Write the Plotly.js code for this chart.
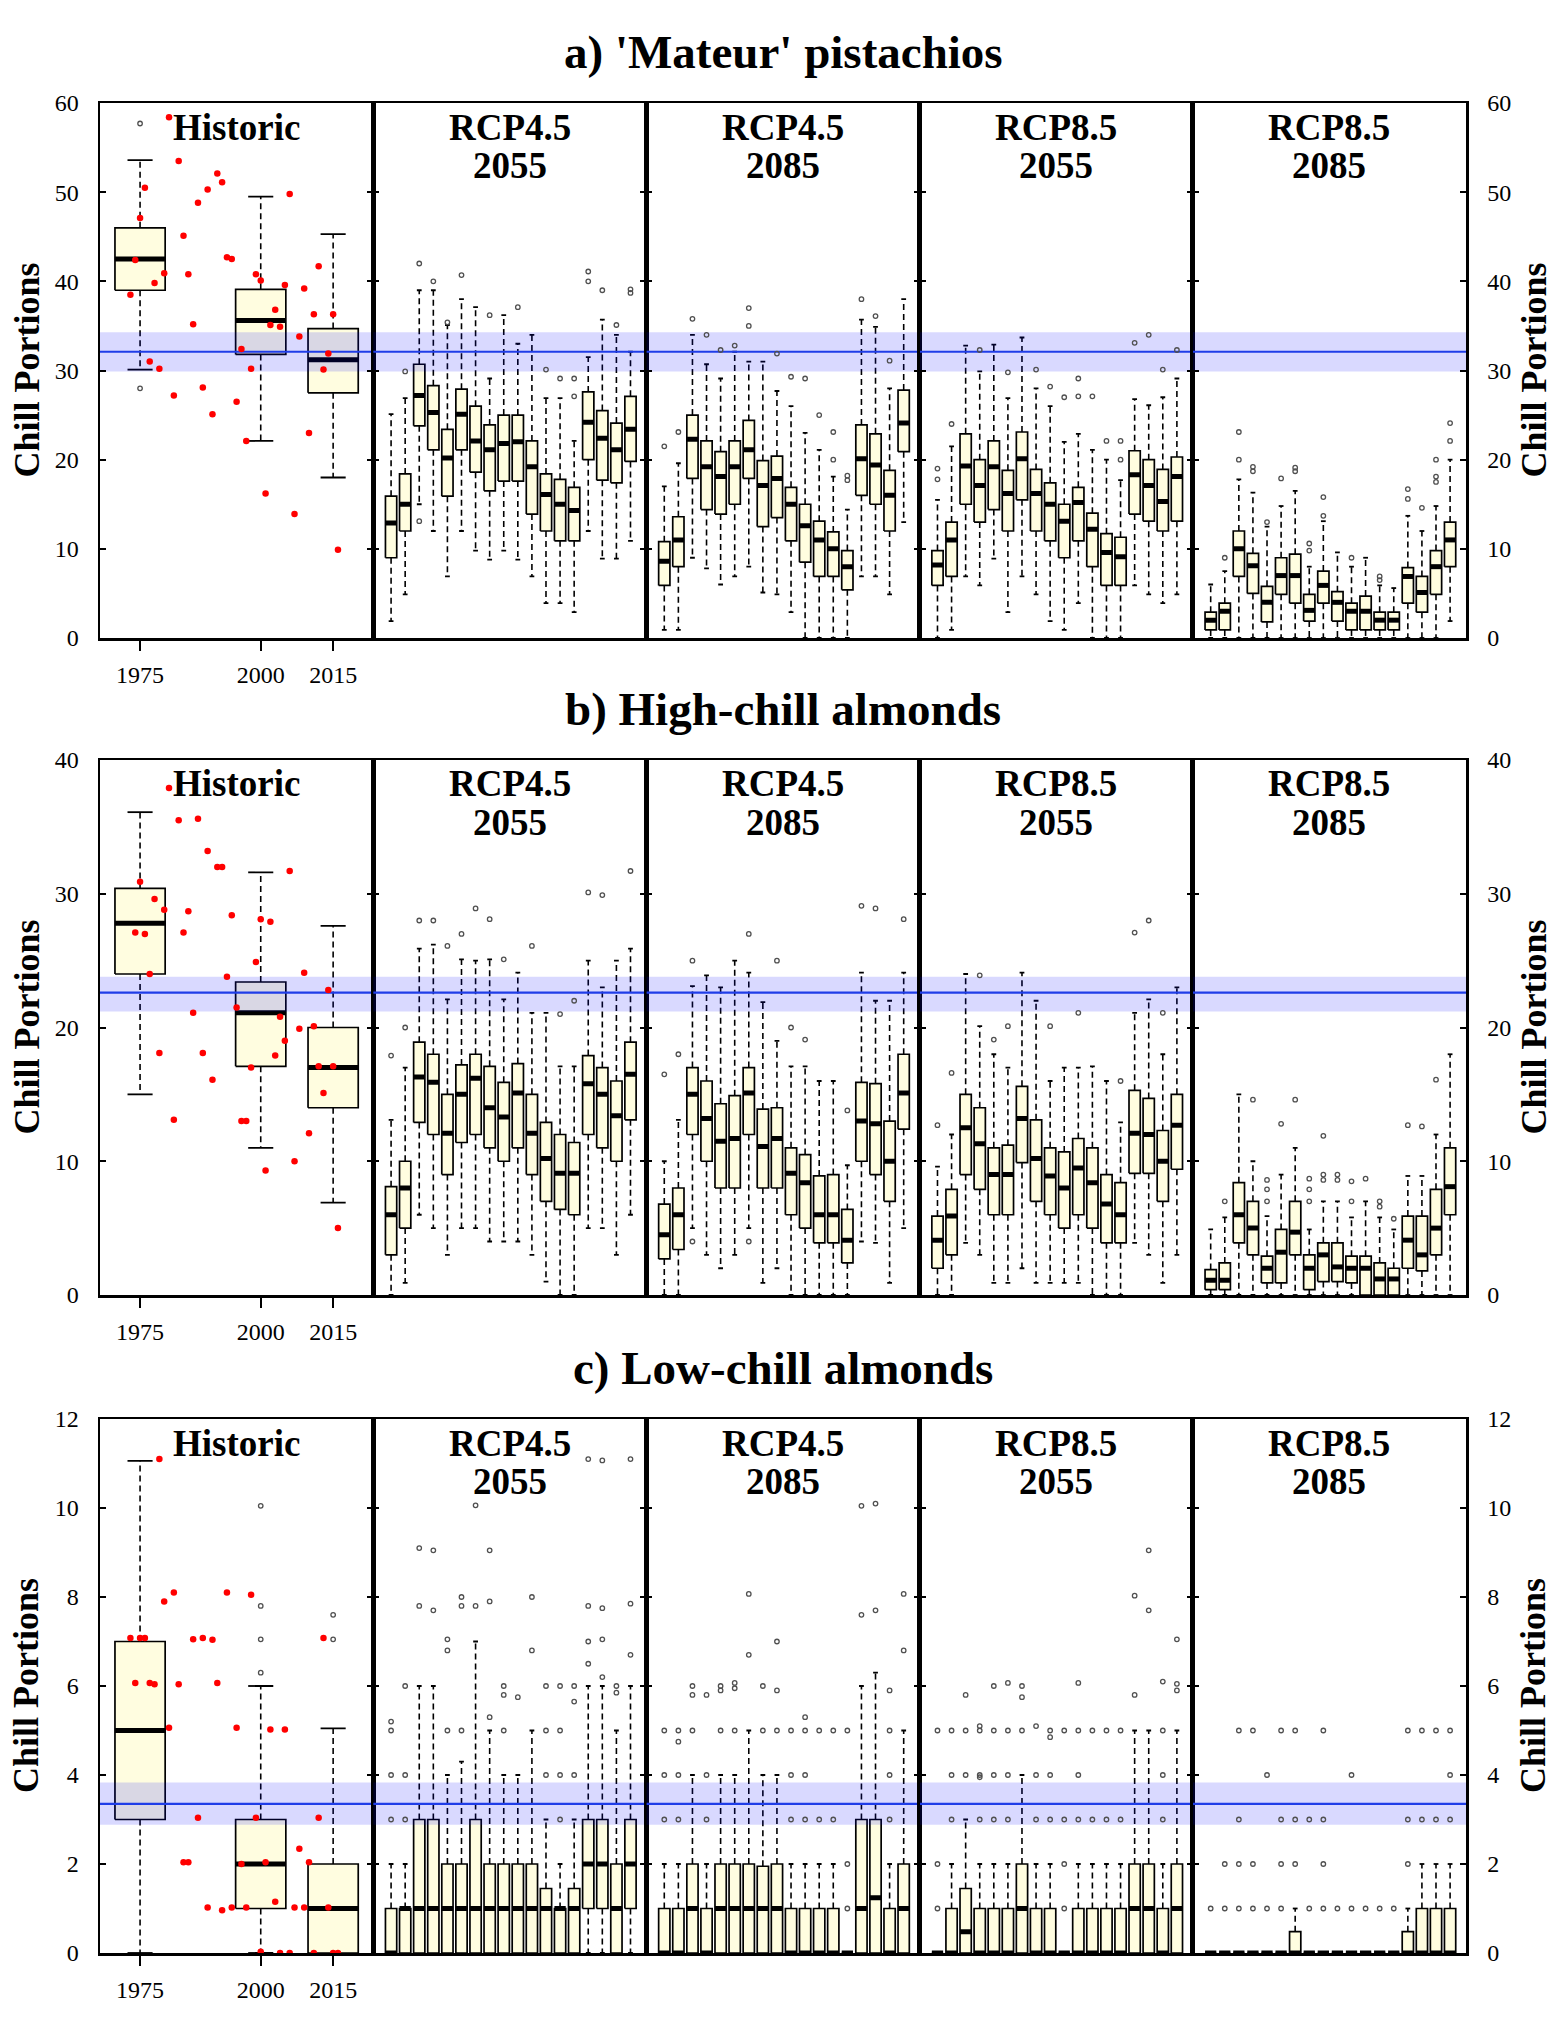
<!DOCTYPE html>
<html>
<head>
<meta charset="utf-8">
<script src="https://cdn.plot.ly/plotly-3.0.1.min.js"></script>
<style>html,body{margin:0;padding:0;background:#fff;}</style>
</head>
<body>
<div id="chart" style="width:1568px;height:2037px;"></div>
<script>
// ---------- Chill portions: historic record and projected climate scenarios ----------

const rowTitles = ["a) 'Mateur' pistachios", "b) High-chill almonds", "c) Low-chill almonds"];
const headLine1 = ["Historic", "RCP4.5", "RCP4.5", "RCP8.5", "RCP8.5"];
const headLine2 = ["", "2055", "2085", "2055", "2085"];
const yAxisTitle = "Chill Portions";

const yTicksA = [0, 10, 20, 30, 40, 50, 60];
const yTicksB = [0, 10, 20, 30, 40];
const yTicksC = [0, 2, 4, 6, 8, 10, 12];

const histTickVals = [1975, 2000, 2015];
const histTickText = ["1975", "2000", "2015"];
const gcmPos = [1, 2, 3, 4, 5, 6, 7, 8, 9, 10, 11, 12, 13, 14, 15, 16, 17, 18];

// chill requirement: [lower bound, estimate, upper bound]
const thrA = [29.9, 32.1, 34.3];
const thrB = [21.2, 22.6, 23.8];
const thrC = [2.88, 3.35, 3.83];

// box statistics per box: [lower whisker, Q1, median, Q3, upper whisker]
const histA = [[30.1, 39.0, 42.5, 46.0, 53.6], [22.1, 31.8, 35.6, 39.1, 49.5], [18.0, 27.5, 31.2, 34.7, 45.3]];
const histAOut = [[57.7, 28.0], [], []];
const histB = [[15.0, 24.0, 27.8, 30.4, 36.1], [11.0, 17.1, 21.1, 23.4, 31.6], [6.9, 14.0, 17.0, 20.0, 27.6]];
const histBOut = [[], [], []];
const histC = [[0, 3.0, 5.0, 7.0, 11.06], [0, 1.0, 2.0, 3.0, 6.0], [0, 0, 1.0, 2.0, 5.05]];
const histCOut = [[], [10.05, 7.8, 7.05, 6.3], [7.6, 7.05]];

// observed annual chill
const obsYearsA = [1973, 1974, 1975, 1976, 1977, 1978, 1979, 1980, 1981, 1982, 1983, 1984, 1985, 1986, 1987, 1988, 1989, 1990, 1991, 1992, 1993, 1994, 1995, 1996, 1997, 1998, 1999, 2000, 2001, 2002, 2003, 2004, 2005, 2006, 2007, 2008, 2009, 2010, 2011, 2012, 2013, 2014, 2015, 2016];
const obsA = [38.5, 42.4, 47.1, 50.5, 31.0, 39.8, 30.2, 40.9, 58.4, 27.2, 53.5, 45.1, 40.8, 35.2, 48.8, 28.1, 50.3, 25.1, 52.1, 51.1, 42.7, 42.5, 26.5, 32.4, 22.1, 30.2, 40.8, 40.1, 16.2, 35.1, 36.8, 34.9, 39.6, 49.8, 13.9, 33.8, 39.2, 23.0, 36.3, 41.7, 30.1, 31.9, 36.3, 9.9];
const obsYearsB = [1974, 1975, 1976, 1977, 1978, 1979, 1980, 1981, 1982, 1983, 1984, 1985, 1986, 1987, 1988, 1989, 1990, 1991, 1992, 1993, 1994, 1995, 1996, 1997, 1998, 1999, 2000, 2001, 2002, 2003, 2004, 2005, 2006, 2007, 2008, 2009, 2010, 2011, 2012, 2013, 2014, 2015, 2016];
const obsB = [27.1, 30.9, 27.0, 24.0, 29.6, 18.1, 28.8, 37.9, 13.1, 35.5, 27.1, 28.7, 21.1, 35.6, 18.1, 33.2, 16.1, 32.0, 32.0, 23.8, 28.4, 21.5, 13.0, 13.0, 17.0, 24.9, 28.1, 9.3, 27.9, 17.9, 20.8, 19.0, 31.7, 10.0, 19.9, 24.1, 12.1, 20.1, 17.1, 15.1, 22.8, 17.1, 5.0];
const obsYearsC = [1973, 1974, 1975, 1976, 1977, 1978, 1979, 1980, 1981, 1982, 1983, 1984, 1985, 1986, 1987, 1988, 1989, 1990, 1991, 1992, 1993, 1994, 1995, 1996, 1997, 1998, 1999, 2000, 2001, 2002, 2003, 2004, 2005, 2006, 2007, 2008, 2009, 2010, 2011, 2012, 2013, 2014, 2015, 2016];
const obsC = [7.08, 6.07, 7.08, 7.08, 6.07, 6.04, 11.1, 7.9, 5.06, 8.1, 6.04, 2.04, 2.04, 7.05, 3.04, 7.08, 1.02, 7.04, 6.07, 0.96, 8.1, 1.02, 5.06, 2.0, 1.02, 8.05, 3.04, 0.03, 2.04, 5.02, 1.15, 0, 5.02, 0, 1.02, 2.34, 1.02, 2.04, 0, 3.04, 7.08, 1.02, 0, 0];

// projections, one box per climate model
const a45_2055 = [[1.9, 9.0, 12.9, 15.9, 25.1], [4.9, 12.0, 15.0, 18.4, 26.9], [15.0, 23.8, 27.2, 30.7, 39.0], [12.0, 21.1, 25.3, 28.3, 39.0], [6.9, 15.9, 20.2, 23.4, 35.1], [12.0, 21.1, 25.1, 27.9, 38.0], [9.8, 18.6, 22.1, 26.0, 37.1], [8.8, 16.5, 21.1, 23.9, 29.1], [9.8, 17.6, 21.8, 25.0, 36.2], [8.8, 17.6, 22.0, 25.0, 33.0], [6.9, 13.9, 19.2, 22.1, 34.0], [3.9, 12.0, 16.1, 18.4, 26.9], [3.9, 10.9, 15.0, 17.8, 26.9], [2.9, 10.9, 14.3, 16.9, 22.1], [12.0, 20.0, 24.2, 27.6, 31.5], [8.9, 17.7, 22.4, 25.5, 35.7], [8.9, 17.4, 21.1, 24.1, 34.0], [10.9, 19.8, 23.4, 27.1, 32.1]];
const a45_2055Out = [[], [29.9], [42.0, 13.1], [40.0], [35.4], [40.7], [], [36.2], [], [37.1], [], [30.1], [29.1], [29.1, 27.1], [41.1, 40.0], [39.0], [35.1], [39.1, 38.7]];
const a45_2085 = [[0.9, 5.9, 8.6, 10.8, 17.0], [0.9, 8.0, 11.0, 13.6, 19.6], [9.0, 17.9, 22.3, 25.0, 34.0], [7.8, 14.4, 19.2, 22.1, 30.7], [6.0, 13.9, 18.1, 20.9, 29.1], [6.9, 15.0, 19.2, 22.1, 32.1], [8.0, 17.9, 21.1, 24.4, 31.0], [5.1, 12.5, 17.1, 19.9, 31.0], [4.9, 13.5, 17.9, 20.4, 27.7], [2.9, 10.9, 15.0, 16.9, 26.0], [0, 8.5, 12.6, 15.0, 23.0], [0, 6.9, 11.0, 13.1, 21.1], [0, 6.9, 10.0, 11.9, 18.1], [0, 5.4, 8.0, 9.8, 14.4], [6.9, 16.0, 20.1, 23.9, 35.7], [6.9, 15.0, 19.4, 22.9, 34.9], [4.9, 12.0, 16.0, 18.8, 28.0], [13.0, 20.9, 24.1, 27.8, 38.0]];
const a45_2085Out = [[21.5], [23.1], [35.8], [34.0], [32.3], [32.8], [37.0, 35.0], [], [31.9], [29.3], [29.1], [25.0], [23.1, 20.0], [18.2, 17.7], [38.0], [36.1], [31.1], []];
const a85_2055 = [[0, 5.9, 8.2, 9.8, 15.5], [0.9, 6.9, 11.0, 13.0, 21.5], [6.9, 15.0, 19.3, 22.9, 32.8], [5.9, 13.0, 17.1, 20.0, 29.9], [8.9, 14.4, 19.2, 22.1, 32.9], [2.9, 12.0, 16.2, 18.8, 26.9], [6.9, 15.5, 20.1, 23.1, 33.7], [4.9, 12.0, 16.2, 18.9, 28.0], [1.9, 10.9, 15.0, 17.4, 26.0], [0.9, 9.0, 13.1, 15.0, 22.0], [3.9, 10.9, 15.2, 16.9, 22.9], [0, 8.0, 12.2, 14.0, 21.1], [0, 5.9, 9.6, 11.7, 20.0], [0, 5.9, 9.1, 11.3, 17.7], [5.9, 13.9, 18.3, 21.0, 26.8], [4.9, 13.1, 17.1, 20.0, 26.1], [3.9, 12.0, 15.3, 18.9, 27.0], [4.9, 13.1, 18.1, 20.3, 29.1]];
const a85_2055Out = [[19.0, 17.8], [24.0], [], [32.3], [], [29.8], [], [30.1], [28.2], [27.0], [29.1, 27.1], [27.1], [22.1], [22.1, 20.0], [33.1], [34.0], [30.1], [32.3]];
const a85_2085 = [[0, 0.9, 2.0, 2.9, 6.0], [0, 0.9, 3.0, 3.9, 7.5], [0, 6.9, 10.0, 12.0, 17.8], [0, 5.0, 8.1, 9.5, 16.3], [0, 1.8, 4.0, 5.8, 12.5], [0, 4.9, 7.0, 9.0, 14.8], [0, 3.9, 7.0, 9.4, 16.5], [0, 1.9, 3.1, 4.9, 8.0], [0, 3.9, 5.9, 7.5, 13.1], [0, 1.9, 4.0, 5.2, 9.6], [0, 0.9, 3.0, 3.9, 8.0], [0, 0.9, 3.0, 4.7, 9.0], [0, 0.9, 2.0, 2.9, 5.9], [0, 0.9, 2.0, 2.9, 5.6], [0, 3.9, 6.9, 7.9, 13.7], [0, 2.9, 5.1, 6.9, 12.0], [0, 4.9, 8.0, 9.8, 14.8], [1.9, 8.0, 11.0, 13.0, 20.0]];
const a85_2085Out = [[], [9.0], [23.1, 20.0], [19.2, 18.7], [13.0], [17.9], [19.1, 18.7], [10.6, 9.8], [15.8, 13.7], [], [9.0], [], [6.9, 6.5], [], [16.7, 15.6], [14.6], [20.0, 18.1, 17.5], [24.1, 22.1]];

const b45_2055 = [[0, 3.0, 6.0, 8.1, 13.1], [0.9, 5.0, 8.0, 10.0, 17.0], [6.0, 12.9, 16.3, 18.9, 25.9], [5.0, 12.0, 15.9, 18.0, 26.2], [3.0, 9.0, 12.1, 15.0, 22.1], [5.0, 11.4, 15.0, 17.2, 25.1], [5.0, 12.0, 16.2, 18.0, 25.0], [4.0, 11.0, 14.0, 17.1, 25.1], [4.0, 10.0, 13.3, 15.9, 22.1], [4.0, 11.0, 15.1, 17.3, 24.1], [3.0, 9.0, 12.1, 15.0, 21.1], [1.0, 7.0, 10.2, 12.9, 21.1], [0, 6.4, 9.1, 12.0, 17.1], [0, 6.0, 9.1, 11.4, 17.1], [5.0, 12.0, 15.8, 17.9, 25.0], [5.0, 11.0, 15.0, 17.0, 23.0], [3.0, 10.0, 13.4, 16.0, 25.0], [6.0, 13.1, 16.5, 18.9, 25.9]];
const b45_2055Out = [[17.9], [20.0], [28.0], [28.0], [26.1], [27.0], [28.9], [28.1], [25.1], [], [26.1], [], [21.0], [22.0], [30.1], [29.9], [], [31.7]];
const b45_2085 = [[0, 2.7, 4.5, 6.8, 10.0], [0, 3.4, 6.0, 8.0, 13.1], [5.0, 12.0, 15.0, 17.0, 23.1], [3.0, 10.0, 13.2, 16.0, 23.9], [2.0, 8.0, 11.5, 14.3, 23.0], [3.0, 8.0, 11.7, 14.9, 25.0], [5.0, 12.0, 15.1, 17.0, 24.1], [0.9, 8.0, 11.1, 13.9, 21.9], [2.0, 8.0, 11.7, 14.0, 19.0], [0, 6.0, 9.1, 11.0, 17.1], [0, 5.0, 8.4, 10.5, 17.1], [0, 3.9, 6.0, 8.9, 16.0], [0, 3.9, 6.0, 9.0, 16.0], [0, 2.4, 4.1, 6.4, 9.7], [4.0, 10.0, 13.0, 15.9, 24.1], [3.9, 9.0, 12.8, 15.8, 22.0], [0.9, 7.0, 10.0, 13.0, 22.0], [5.0, 12.4, 15.1, 18.0, 24.1]];
const b45_2085Out = [[16.5], [18.0], [25.0, 4.0], [], [], [], [27.0, 4.0], [], [25.0], [20.0], [19.1], [], [], [13.8], [29.1], [28.9], [], [28.1]];
const b85_2055 = [[0, 2.0, 4.1, 5.9, 9.6], [0, 3.0, 5.9, 7.9, 12.0], [3.9, 9.0, 12.5, 15.0, 24.0], [3.0, 7.9, 11.3, 14.0, 20.1], [0.9, 6.0, 9.0, 11.0, 18.0], [0.9, 6.0, 9.0, 11.2, 17.0], [2.0, 9.9, 13.2, 15.6, 24.1], [0.9, 7.0, 10.2, 13.1, 22.0], [0.9, 6.0, 8.9, 11.0, 16.0], [0.9, 5.0, 8.0, 10.7, 17.0], [0.9, 6.0, 9.5, 11.7, 17.0], [0, 5.0, 8.4, 11.0, 17.1], [0, 3.9, 6.8, 9.0, 16.0], [0, 3.9, 6.0, 8.4, 12.9], [3.9, 9.1, 12.1, 15.3, 21.1], [3.0, 9.1, 12.0, 14.7, 22.1], [0.9, 7.0, 10.0, 12.3, 18.0], [3.0, 9.4, 12.7, 15.0, 23.0]];
const b85_2055Out = [[12.7], [16.6], [], [23.9], [19.1], [20.1], [], [], [20.1], [], [21.1], [], [], [16.0], [27.1], [28.0], [21.1], []];
const b85_2085 = [[0, 0.4, 1.1, 1.9, 4.9], [0, 0.4, 1.1, 2.4, 5.8], [0, 3.9, 6.0, 8.4, 15.0], [0, 3.0, 5.0, 7.0, 10.0], [0, 0.9, 2.0, 2.9, 5.9], [0, 0.9, 3.2, 4.9, 9.0], [0, 3.0, 4.7, 7.0, 11.0], [0, 0.4, 2.0, 3.0, 4.9], [0, 1.0, 3.0, 3.9, 7.0], [0, 1.0, 2.1, 3.9, 7.0], [0, 0.9, 2.0, 2.9, 5.8], [0, 0, 2.0, 2.9, 7.0], [0, 0, 1.2, 2.4, 5.8], [0, 0, 1.2, 2.0, 4.9], [0, 2.0, 4.1, 5.9, 8.9], [0, 1.8, 3.0, 5.9, 8.9], [0, 3.0, 5.0, 7.9, 12.0], [0, 6.0, 8.1, 11.0, 18.0]];
const b85_2085Out = [[], [7.0], [], [14.6], [8.6, 7.9, 7.0], [12.8], [14.6], [8.7, 7.9, 7.0], [11.9, 9.0, 8.6], [9.0, 8.6], [8.5, 7.0], [8.7], [7.0, 6.6], [5.7], [12.7], [12.6], [16.1], []];

const c45_2055 = [[0, 0, 0, 1, 2], [0, 0, 1, 1, 2], [0, 0, 1, 3, 6], [0, 0, 1, 3, 6], [0, 0, 1, 2, 4], [0, 0, 1, 2, 4.3], [0, 0, 1, 3, 7], [0, 0, 1, 2, 5], [0, 0, 1, 2, 4], [0, 0, 1, 2, 4], [0, 0, 1, 2, 5], [0, 0, 1, 1.45, 3], [0, 0, 1, 1, 2], [0, 0, 1, 1.45, 3], [0, 1, 2, 3, 6], [0, 1, 2, 3, 6], [0, 0, 1, 2, 5], [0, 1, 2, 3, 6]];
const c45_2055Out = [[5.2, 5.0, 4.0, 3.0], [6.0, 4.0, 3.0], [9.1, 7.8], [9.05, 7.7], [7.05, 6.8, 5.0], [8.0, 7.8, 5.0], [10.06, 7.8], [9.05, 7.9, 5.3], [6.0, 5.8, 5.0], [5.75], [8.0, 6.8], [6.0, 5.0, 4.0], [6.0, 5.0, 4.0, 3.0], [6.0, 5.65, 4.0], [11.1, 7.8, 7.0, 6.5], [11.07, 7.75, 7.05, 6.2], [6.0, 5.85], [11.1, 7.85, 6.7]];
const c45_2085 = [[0, 0, 0, 1, 2], [0, 0, 0, 1, 2], [0, 0, 1, 2, 4], [0, 0, 0, 1, 2], [0, 0, 1, 2, 4], [0, 0, 1, 2, 4], [0, 0, 1, 2, 5], [0, 0, 1, 1.95, 4], [0, 0, 1, 2, 4], [0, 0, 0, 1, 2], [0, 0, 0, 1, 2], [0, 0, 0, 1, 2], [0, 0, 0, 1, 2], [0, 0, 0, 0, 0], [0, 0, 1, 3, 6], [0, 0, 1.24, 3, 6.3], [0, 0, 0, 1, 2], [0, 0, 1, 2, 5]];
const c45_2085Out = [[5.0, 4.0, 3.0], [5.0, 4.75, 4.0, 3.0], [6.0, 5.8, 5.0], [5.8, 4.0, 3.0], [6.0, 5.9, 5.0], [6.07, 5.95, 5.0], [8.07, 6.7], [6.0, 5.0], [7.0, 5.9, 5.0], [5.0, 4.0, 3.0], [5.3, 5.0, 4.0, 3.0], [5.0, 3.0], [5.0, 3.0], [5.0, 2.0, 1.0], [10.05, 7.6], [10.1, 7.7], [5.9, 5.0, 4.0, 3.0], [8.07, 6.8]];
const c85_2055 = [[0, 0, 0, 0, 0], [0, 0, 0, 1, 2], [0, 0, 0.48, 1.45, 3], [0, 0, 0, 1, 2], [0, 0, 0, 1, 2], [0, 0, 0, 1, 2], [0, 0, 1, 2, 4], [0, 0, 0, 1, 2], [0, 0, 0, 1, 2], [0, 0, 0, 0, 0], [0, 0, 0, 1, 2], [0, 0, 0, 1, 2], [0, 0, 0, 1, 2], [0, 0, 0, 1, 2], [0, 0, 1, 2, 5], [0, 0, 1, 2, 5], [0, 0, 0, 1, 2], [0, 0, 1, 2, 5]];
const c85_2055Out = [[5.0, 2.0, 1.0], [5.0, 4.0, 3.0], [5.8, 5.0, 4.0], [5.1, 5.0, 4.0, 3.95, 3.0], [6.0, 5.0, 4.0, 3.0], [6.07, 5.0, 4.0, 3.0], [6.0, 5.75, 5.0], [5.1, 4.0, 3.0], [5.0, 4.85, 4.0, 3.0], [5.0, 3.0, 2.0, 1.0], [6.07, 5.0, 4.0, 3.0], [5.0, 3.0], [5.0, 3.0], [5.0, 3.0], [8.03, 5.8], [9.05, 7.7], [6.1, 5.0, 4.0, 3.0], [7.05, 6.05, 5.9]];
const c85_2085 = [[0, 0, 0, 0, 0], [0, 0, 0, 0, 0], [0, 0, 0, 0, 0], [0, 0, 0, 0, 0], [0, 0, 0, 0, 0], [0, 0, 0, 0, 0], [0, 0, 0, 0.48, 1], [0, 0, 0, 0, 0], [0, 0, 0, 0, 0], [0, 0, 0, 0, 0], [0, 0, 0, 0, 0], [0, 0, 0, 0, 0], [0, 0, 0, 0, 0], [0, 0, 0, 0, 0], [0, 0, 0, 0.48, 1], [0, 0, 0, 1, 2], [0, 0, 0, 1, 2], [0, 0, 0, 1, 2]];
const c85_2085Out = [[1], [2, 1], [5, 3, 2, 1], [5, 2, 1], [4, 1], [5, 3, 2, 1], [5, 3, 2], [3, 1], [5, 3, 2, 1], [1], [4, 1], [1], [1], [1], [5, 3, 2], [5, 3], [5, 3], [5, 4, 3]];

// ---------- figure geometry and styling ----------
const W = 1568, H = 2037;
const colPx = [100, 373.2, 646.4, 919.6, 1192.8, 1466];
const rowPx = [[103, 638], [760, 1295], [1419, 1953]];
const histRange = [1966.7, 2023.3];
const gcmRange = [-0.27, 19.13];
const SERIF = '"Liberation Serif", "Times New Roman", Times, serif';
const BOX_FILL = '#FFFDE0';
const BAND_FILL = 'rgba(0,0,255,0.15)';
const LINE_BLUE = '#1f3de8';

const rows = [
  { hist: histA, histOut: histAOut, obsX: obsYearsA, obsY: obsA, fut: [a45_2055, a45_2085, a85_2055, a85_2085], futOut: [a45_2055Out, a45_2085Out, a85_2055Out, a85_2085Out], thr: thrA, ticks: yTicksA },
  { hist: histB, histOut: histBOut, obsX: obsYearsB, obsY: obsB, fut: [b45_2055, b45_2085, b85_2055, b85_2085], futOut: [b45_2055Out, b45_2085Out, b85_2055Out, b85_2085Out], thr: thrB, ticks: yTicksB },
  { hist: histC, histOut: histCOut, obsX: obsYearsC, obsY: obsC, fut: [c45_2055, c45_2085, c85_2055, c85_2085], futOut: [c45_2055Out, c45_2085Out, c85_2055Out, c85_2085Out], thr: thrC, ticks: yTicksC }
];

function line(x, y, xa, ya, style, extra) {
  return Object.assign({ type: 'scatter', mode: 'lines', x: x, y: y, xaxis: xa, yaxis: ya,
    line: style, hoverinfo: 'skip', showlegend: false, connectgaps: false }, extra || {});
}

// R-style boxplot pieces: dashed whiskers, staples, filled box, heavy median
function boxPieces(xs, stats, half, capHalf, xa, ya) {
  const bx = [], by = [], wx = [], wy = [], cx = [], cy = [], mx = [], my = [];
  stats.forEach((s, i) => {
    const lo = s[0], q1 = s[1], med = s[2], q3 = s[3], hi = s[4], x = xs[i];
    bx.push(x - half, x + half, x + half, x - half, x - half, null);
    by.push(q1, q1, q3, q3, q1, null);
    if (hi > q3) { wx.push(x, x, null); wy.push(q3, hi, null); }
    if (lo < q1) { wx.push(x, x, null); wy.push(q1, lo, null); }
    cx.push(x - capHalf, x + capHalf, null, x - capHalf, x + capHalf, null);
    cy.push(hi, hi, null, lo, lo, null);
    mx.push(x - half, x + half, null);
    my.push(med, med, null);
  });
  return [
    line(wx, wy, xa, ya, { color: '#000', width: 1.6, dash: '6px,4px' }),
    line(cx, cy, xa, ya, { color: '#000', width: 1.8 }),
    line(bx, by, xa, ya, { color: '#000', width: 1.7 }, { fill: 'toself', fillcolor: BOX_FILL }),
    line(mx, my, xa, ya, { color: '#000', width: 5 })
  ];
}

function outlierTrace(xs, outs, xa, ya) {
  const ox = [], oy = [];
  outs.forEach((list, i) => list.forEach(v => { ox.push(xs[i]); oy.push(v); }));
  return { type: 'scatter', mode: 'markers', x: ox, y: oy, xaxis: xa, yaxis: ya,
    marker: { symbol: 'circle-open', size: 4.5, color: '#505050', line: { width: 1.3, color: '#505050' } },
    hoverinfo: 'skip', showlegend: false, cliponaxis: false };
}

const traces = [];
const annotations = [];
const layout = {
  width: W, height: H, margin: { l: 0, r: 0, t: 0, b: 0 },
  paper_bgcolor: '#ffffff', plot_bgcolor: '#ffffff', showlegend: false, hovermode: false,
  font: { family: SERIF, color: '#000' }, annotations: annotations
};

const tickFont = { family: SERIF, size: 24, color: '#000' };

rows.forEach((row, r) => {
  const topPx = rowPx[r][0], botPx = rowPx[r][1];
  const yMax = row.ticks[row.ticks.length - 1];
  for (let c = 0; c < 5; c++) {
    const i = r * 5 + c + 1;
    const sfx = i === 1 ? '' : String(i);
    const xa = 'x' + sfx, ya = 'y' + sfx;
    const isHist = c === 0;
    const xr = isHist ? histRange : gcmRange;

    const xAxis = { domain: [colPx[c] / W, colPx[c + 1] / W], range: xr, anchor: ya,
      showline: true, linewidth: 2.5, linecolor: '#000', mirror: true,
      showgrid: false, zeroline: false, fixedrange: true };
    if (isHist) {
      Object.assign(xAxis, { tickmode: 'array', tickvals: histTickVals, ticktext: histTickText,
        ticks: 'outside', ticklen: 10, tickwidth: 2, tickcolor: '#000', tickfont: tickFont, ticklabelstandoff: 4 });
    } else {
      Object.assign(xAxis, { showticklabels: false, ticks: '' });
    }
    layout['xaxis' + sfx] = xAxis;

    layout['yaxis' + sfx] = { domain: [1 - botPx / H, 1 - topPx / H], range: [0, yMax], anchor: xa,
      side: c === 4 ? 'right' : 'left', tickmode: 'array', tickvals: row.ticks,
      ticks: 'inside', ticklen: 6, tickwidth: 2, tickcolor: '#000', mirror: 'ticks',
      showline: true, linewidth: 2.5, linecolor: '#000', showgrid: false, zeroline: false,
      showticklabels: c === 0 || c === 4, tickfont: tickFont, ticklabelstandoff: 14, fixedrange: true };

    // boxes
    const xs = isHist ? histTickVals : gcmPos;
    const stats = isHist ? row.hist : row.fut[c - 1];
    const outs = isHist ? row.histOut : row.futOut[c - 1];
    const half = isHist ? 5.2 : 0.4;
    const capHalf = isHist ? 2.6 : 0.17;
    boxPieces(xs, stats, half, capHalf, xa, ya).forEach(t => traces.push(t));

    // chill requirement band and line
    traces.push(line([xr[0], xr[1], xr[1], xr[0], xr[0]], [row.thr[0], row.thr[0], row.thr[2], row.thr[2], row.thr[0]],
      xa, ya, { width: 0, color: 'rgba(0,0,0,0)' }, { fill: 'toself', fillcolor: BAND_FILL }));
    traces.push(line([xr[0], xr[1]], [row.thr[1], row.thr[1]], xa, ya, { color: LINE_BLUE, width: 2.2 }));

    traces.push(outlierTrace(xs, outs, xa, ya));

    if (isHist) {
      traces.push({ type: 'scatter', mode: 'markers', x: row.obsX, y: row.obsY, xaxis: xa, yaxis: ya,
        marker: { symbol: 'circle', size: 6.5, color: '#ff0000' }, hoverinfo: 'skip', showlegend: false });
    }

    // panel headers
    const cx = (colPx[c] + colPx[c + 1]) / 2 / W;
    annotations.push({ xref: 'paper', yref: 'paper', x: cx, y: 1 - (topPx + 24) / H,
      xanchor: 'center', yanchor: 'middle', showarrow: false, text: '<b>' + headLine1[c] + '</b>',
      font: { family: SERIF, size: 37, color: '#000' } });
    if (headLine2[c]) {
      annotations.push({ xref: 'paper', yref: 'paper', x: cx, y: 1 - (topPx + 62) / H,
        xanchor: 'center', yanchor: 'middle', showarrow: false, text: '<b>' + headLine2[c] + '</b>',
        font: { family: SERIF, size: 37, color: '#000' } });
    }
  }

  // row title and axis titles
  annotations.push({ xref: 'paper', yref: 'paper', x: (colPx[0] + colPx[5]) / 2 / W, y: 1 - (topPx - 51) / H,
    xanchor: 'center', yanchor: 'middle', showarrow: false, text: '<b>' + rowTitles[r] + '</b>',
    font: { family: SERIF, size: 47, color: '#000' } });
  const yMid = 1 - (topPx + botPx) / 2 / H;
  annotations.push({ xref: 'paper', yref: 'paper', x: 26 / W, y: yMid, xanchor: 'center', yanchor: 'middle',
    textangle: -90, showarrow: false, text: '<b>' + yAxisTitle + '</b>', font: { family: SERIF, size: 36, color: '#000' } });
  annotations.push({ xref: 'paper', yref: 'paper', x: 1533 / W, y: yMid, xanchor: 'center', yanchor: 'middle',
    textangle: -90, showarrow: false, text: '<b>' + yAxisTitle + '</b>', font: { family: SERIF, size: 36, color: '#000' } });
});

Plotly.newPlot('chart', traces, layout, { staticPlot: true, displayModeBar: false });
</script>
</body>
</html>
